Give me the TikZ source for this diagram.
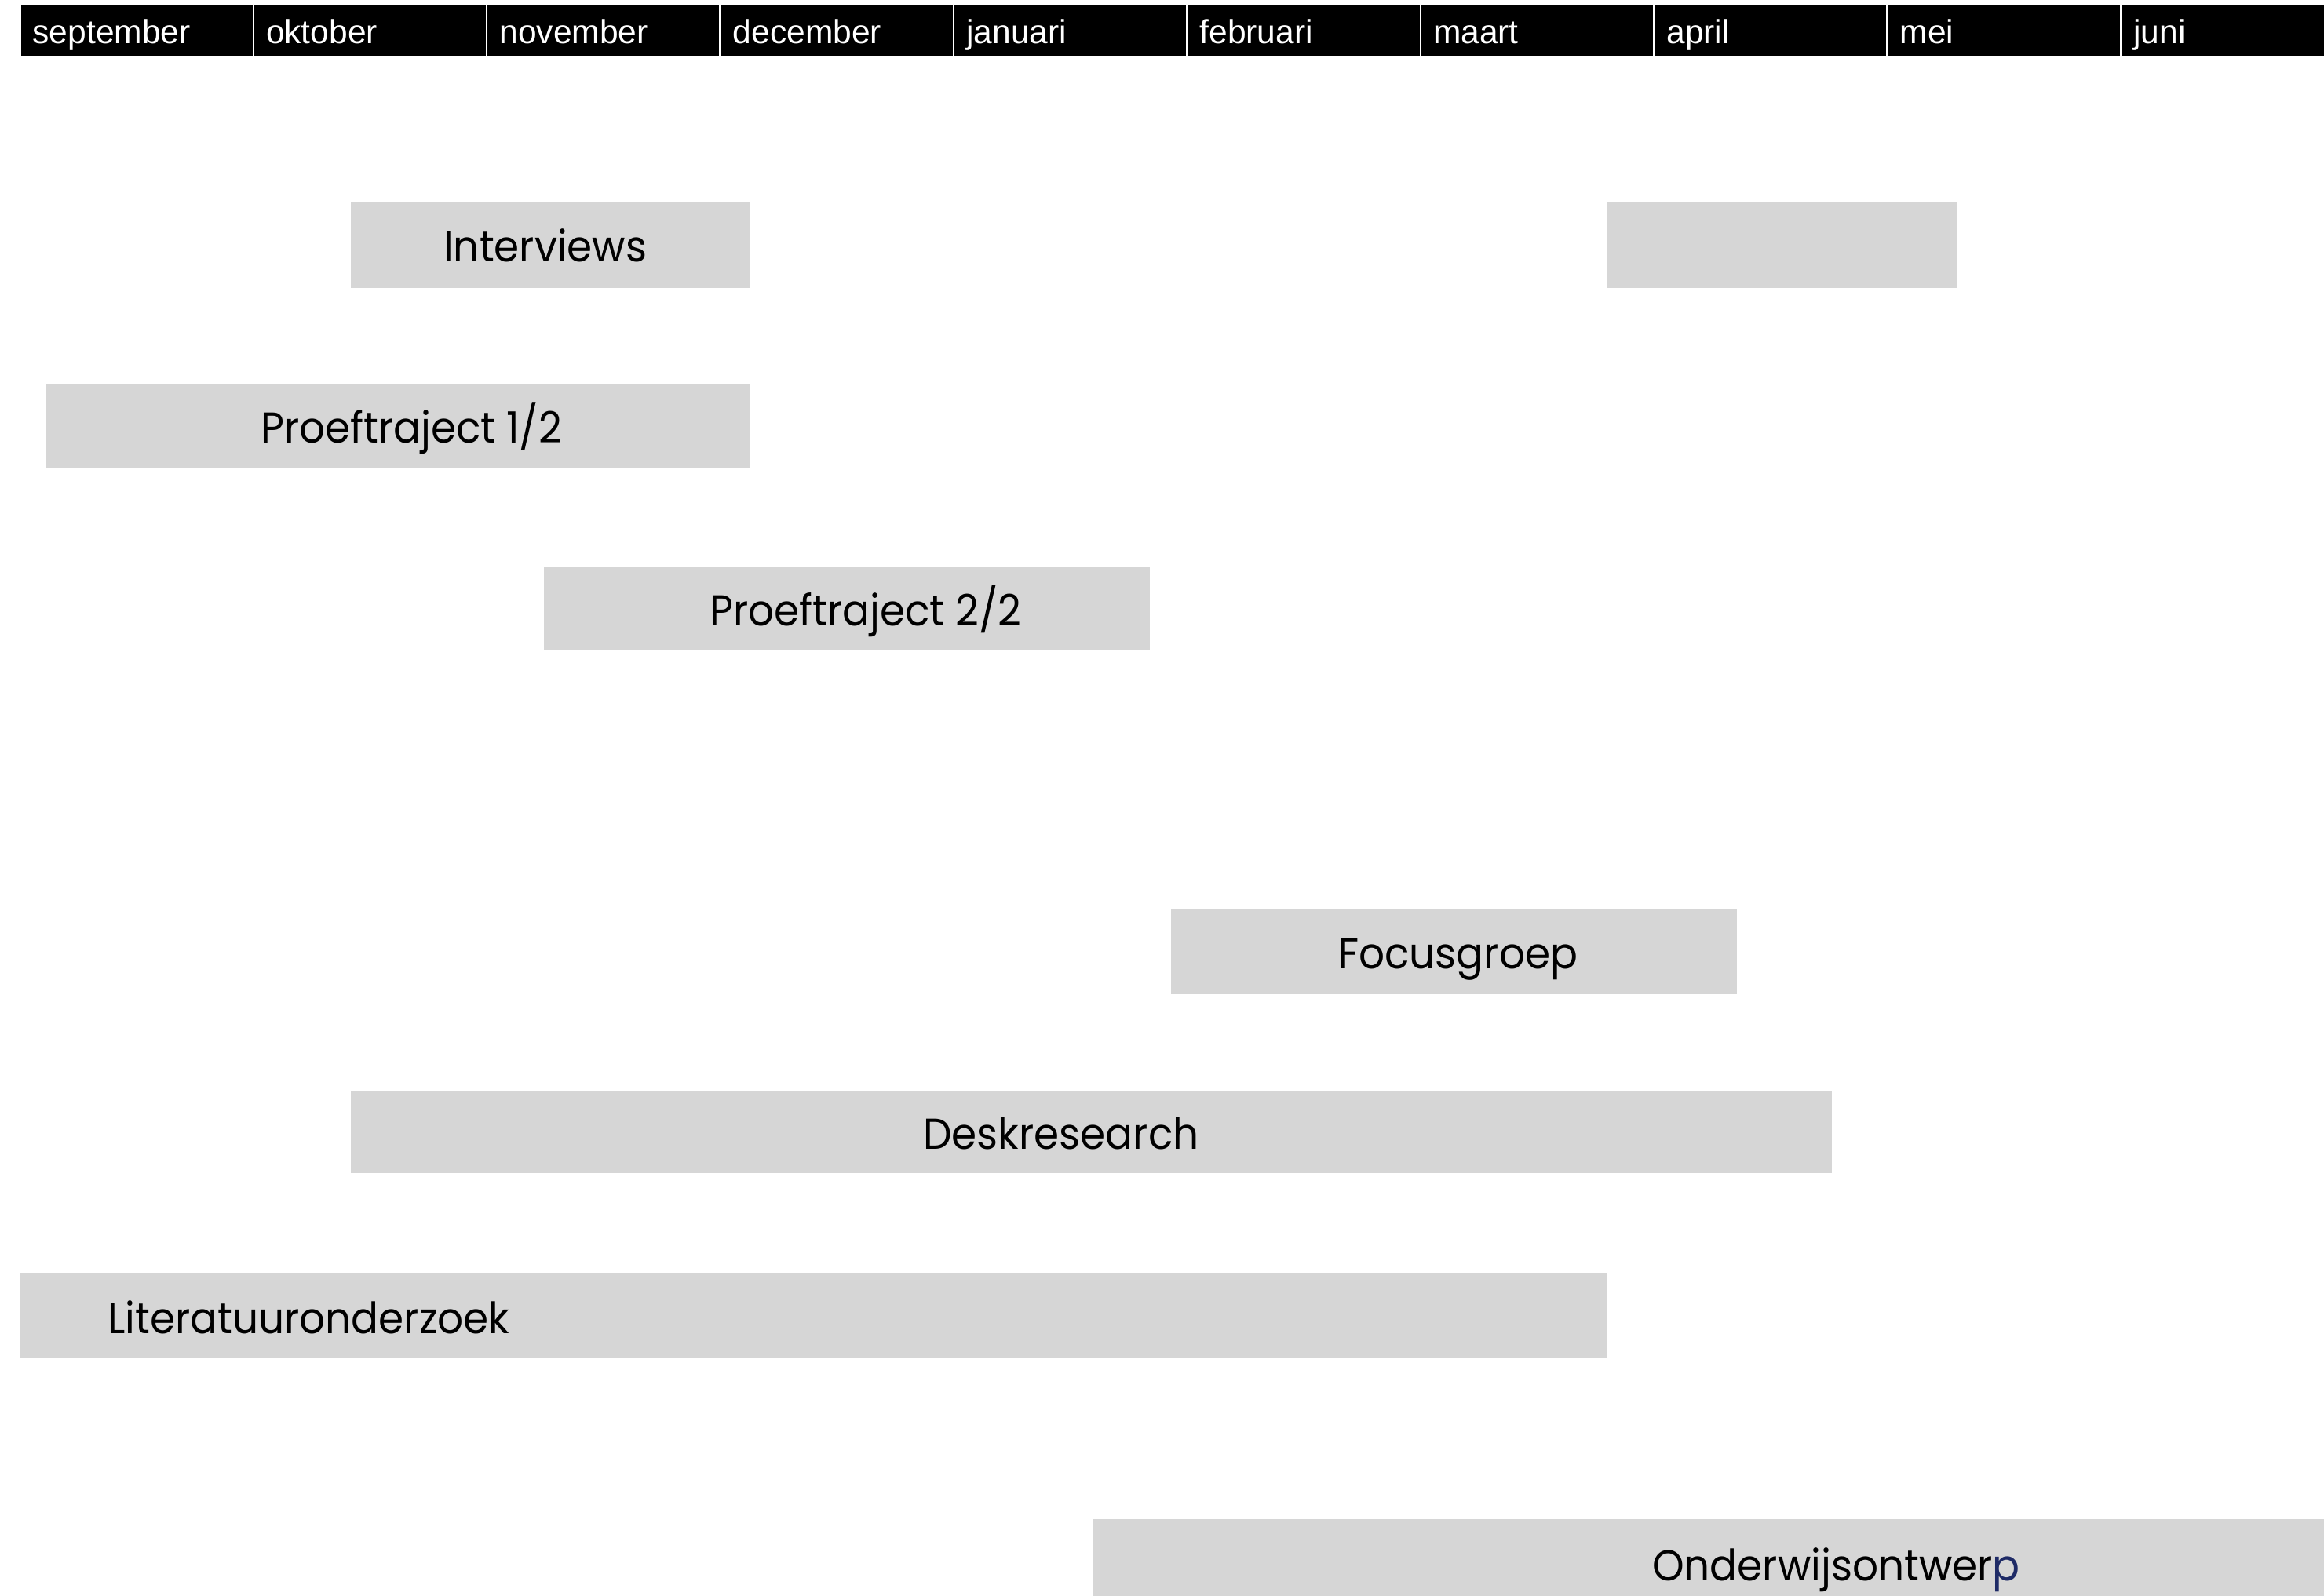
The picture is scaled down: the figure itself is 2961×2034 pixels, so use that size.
\documentclass[tikz,border=0pt]{standalone}
\usepackage{fontspec}
\setmainfont{Liberation Sans}
\newfontfamily\boxfont[FakeStretch=0.94]{Poppins}
\definecolor{barfill}{HTML}{D6D6D6}
\definecolor{navy}{HTML}{1E2A66}
\begin{document}
\begin{tikzpicture}[x=1pt,y=-1pt,
  month/.style={fill=black, draw=none},
  monthlabel/.style={text=white, font=\fontsize{42.5}{50}\selectfont, anchor=base west, inner sep=0pt},
  bar/.style={fill=barfill, draw=none},
  barlabel/.style={font=\boxfont\fontsize{55}{60}\selectfont, anchor=base west, inner sep=0pt, text=black}]
\useasboundingbox (0,0) rectangle (2961,2034);
\clip (0,0) rectangle (2961,2034);
\foreach \m [count=\i from 0] in {september,oktober,november,december,januari,februari,maart,april,mei,juni}{
  \path[month] ({26.5+297.4*\i},6) rectangle ++(295,65);
  \node[monthlabel] (m\i) at ({26.5+297.4*\i+15},55.5) {\m};
}
% bars
\path[bar] (447,257) rectangle (955,367);
\path[bar] (2047,257) rectangle (2493,367);
\path[bar] (58,489) rectangle (955,597);
\path[bar] (693,723) rectangle (1465,829);
\path[bar] (1492,1159) rectangle (2213,1267);
\path[bar] (447,1390) rectangle (2334,1495);
\path[bar] (26,1622) rectangle (2047,1731);
\path[bar] (1392,1936) rectangle (2961,2044);
% labels
\node[barlabel] (interviews) at (565,333) {Interviews};
\node[barlabel] (proef1) at (332,564) {Proeftraject 1/2};
\node[barlabel] (proef2) at (904,797) {Proeftraject 2/2};
\node[barlabel] (focus) at (1705,1234) {Focusgroep};
\node[barlabel] (desk) at (1176,1464) {Deskresearch};
\node[barlabel] (lit) at (137,1699) {Literatuuronderzoek};
\node[barlabel] (onderwijs) at (2105,2014) {Onderwijsontwer\textcolor{navy}{p}};
\end{tikzpicture}
\end{document}
